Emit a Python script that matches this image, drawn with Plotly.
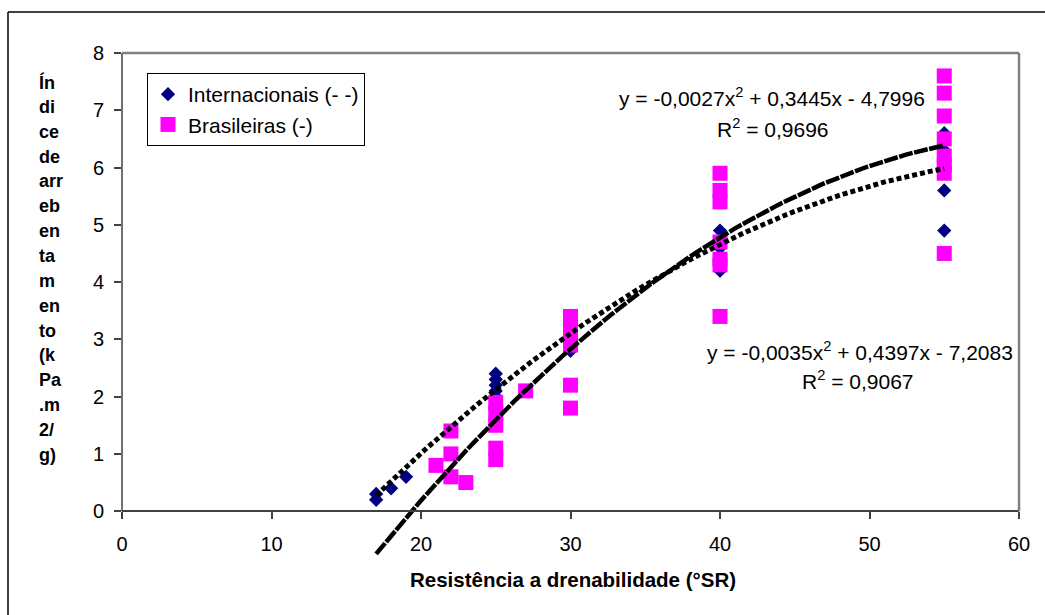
import numpy as np
import plotly.graph_objects as go

# ---------------- data ----------------
int_x = [17, 17, 18, 19, 25, 25, 25, 25, 25, 30, 40, 40, 40, 55, 55, 55, 55]
int_y = [0.3, 0.2, 0.4, 0.6, 2.0, 2.1, 2.2, 2.3, 2.4, 2.8, 4.2, 4.6, 4.9, 4.9, 5.6, 6.3, 6.6]

bra_x = [21, 22, 22, 22, 23, 25, 25, 25, 25, 25, 27,
         30, 30, 30, 30, 30, 30,
         40, 40, 40, 40, 40, 40, 40,
         55, 55, 55, 55, 55, 55, 55, 55]
bra_y = [0.8, 0.6, 1.0, 1.4, 0.5, 0.9, 1.1, 1.5, 1.7, 1.9, 2.1,
         1.8, 2.2, 2.9, 3.1, 3.3, 3.4,
         3.4, 4.3, 4.4, 4.7, 5.4, 5.6, 5.9,
         4.5, 5.9, 6.05, 6.2, 6.5, 6.9, 7.3, 7.6]

# trendline coefficients as printed on the chart (a*x^2 + b*x + c)
int_coef = [-0.0027, 0.3445, -4.7996]
bra_coef = [-0.0035, 0.4397, -7.2083]
trend_xrange = [17, 55]

int_eq = "y = -0,0027x<sup>2</sup> + 0,3445x - 4,7996"
int_r2 = "R<sup>2</sup> = 0,9696"
bra_eq = "y = -0,0035x<sup>2</sup> + 0,4397x - 7,2083"
bra_r2 = "R<sup>2</sup> = 0,9067"

x_ticks = [0, 10, 20, 30, 40, 50, 60]
y_ticks = [0, 1, 2, 3, 4, 5, 6, 7, 8]
y_title_lines = ["Ín", "di", "ce", "de", "arr", "eb", "en", "ta", "m", "en",
                 "to", "(k", "Pa", ".m", "2/", "g)"]
x_title = "Resistência a drenabilidade (°SR)"

# ---------------- layout geometry ----------------
W, H = 1045, 615
L, R, T, B = 122, 26, 53, 58
PW, PH = W - L - R, H - T - B
YMIN, YMAX = -0.8, 8


def px(x):
    return (x - L) / PW


def py(y):
    return (H - B - y) / PH


y0_paper = (0 - YMIN) / (YMAX - YMIN)
FONT = "Liberation Sans, Arial, sans-serif"

fig = go.Figure()

fig.add_trace(go.Scatter(
    x=int_x, y=int_y, mode="markers", name="Internacionais (- -)",
    marker=dict(symbol="diamond", size=11, color="#000080", line=dict(width=0)),
))
fig.add_trace(go.Scatter(
    x=bra_x, y=bra_y, mode="markers", name="Brasileiras (-)",
    marker=dict(symbol="square", size=15, color="#FF00FF", line=dict(width=0)),
))

tx = np.linspace(trend_xrange[0], trend_xrange[1], 120)
fig.add_trace(go.Scatter(
    x=tx, y=np.polyval(int_coef, tx), mode="lines", showlegend=False,
    line=dict(color="black", width=5, dash="5px,3px"), hoverinfo="skip",
))
fig.add_trace(go.Scatter(
    x=tx, y=np.polyval(bra_coef, tx), mode="lines", showlegend=False,
    line=dict(color="black", width=4.5, dash="14px,1.5px"), hoverinfo="skip",
))

shapes = [
    # y axis line (0..8)
    dict(type="line", xref="paper", yref="paper", x0=0, x1=0, y0=y0_paper, y1=1,
         line=dict(color="#404040", width=1.5)),
    # plot area border top / right (gray)
    dict(type="line", xref="paper", yref="paper", x0=0, x1=1, y0=1, y1=1,
         line=dict(color="#808080", width=2.5)),
    dict(type="line", xref="paper", yref="paper", x0=1, x1=1, y0=y0_paper, y1=1,
         line=dict(color="#808080", width=2.5)),
    # outer chart border (top and left)
    dict(type="line", xref="paper", yref="paper", x0=px(8), x1=px(1060), y0=py(12), y1=py(12),
         line=dict(color="black", width=1.5)),
    dict(type="line", xref="paper", yref="paper", x0=px(8), x1=px(8), y0=py(12), y1=py(630),
         line=dict(color="black", width=1.5)),
]

annotations = []
for txt, cx, cy in [(int_eq, 772, 97), (int_r2, 773, 128), (bra_eq, 860, 351), (bra_r2, 858, 380)]:
    annotations.append(dict(text=txt, xref="paper", yref="paper", x=px(cx), y=py(cy),
                            xanchor="center", yanchor="middle", showarrow=False,
                            font=dict(family=FONT, size=21, color="black")))
for i, line in enumerate(y_title_lines):
    annotations.append(dict(text="<b>" + line + "</b>", xref="paper", yref="paper",
                            x=px(37), y=py(82 + i * 24.85), xanchor="left", yanchor="middle",
                            showarrow=False, font=dict(family=FONT, size=18, color="black")))
annotations.append(dict(text="<b>" + x_title + "</b>", xref="paper", yref="paper",
                        x=px(573), y=py(579), xanchor="center", yanchor="middle",
                        showarrow=False, font=dict(family=FONT, size=20.5, color="black")))

fig.update_layout(
    width=W, height=H,
    margin=dict(l=L, r=R, t=T, b=B, autoexpand=False),
    paper_bgcolor="white", plot_bgcolor="white",
    font=dict(family=FONT, size=20, color="black"),
    showlegend=True,
    legend=dict(x=px(147), y=py(73), xanchor="left", yanchor="top",
                bgcolor="white", bordercolor="black", borderwidth=1,
                font=dict(family=FONT, size=21, color="black"),
                itemwidth=30, tracegroupgap=0),
    xaxis=dict(range=[0, 60], tickvals=x_ticks, ticktext=[str(v) for v in x_ticks],
               anchor="free", position=y0_paper,
               showline=True, linecolor="#404040", linewidth=2,
               ticks="outside", ticklen=7, tickcolor="#404040", tickwidth=1.5,
               showgrid=False, zeroline=False, ticklabelstandoff=8,
               tickfont=dict(family=FONT, size=20, color="black")),
    yaxis=dict(range=[YMIN, YMAX], tickvals=y_ticks, ticktext=[str(v) for v in y_ticks],
               showline=False, ticks="outside", ticklen=7, tickcolor="#404040", tickwidth=1.5,
               showgrid=False, zeroline=False, ticklabelstandoff=6,
               tickfont=dict(family=FONT, size=20, color="black")),
    shapes=shapes,
    annotations=annotations,
)

fig.write_html("out.html")
